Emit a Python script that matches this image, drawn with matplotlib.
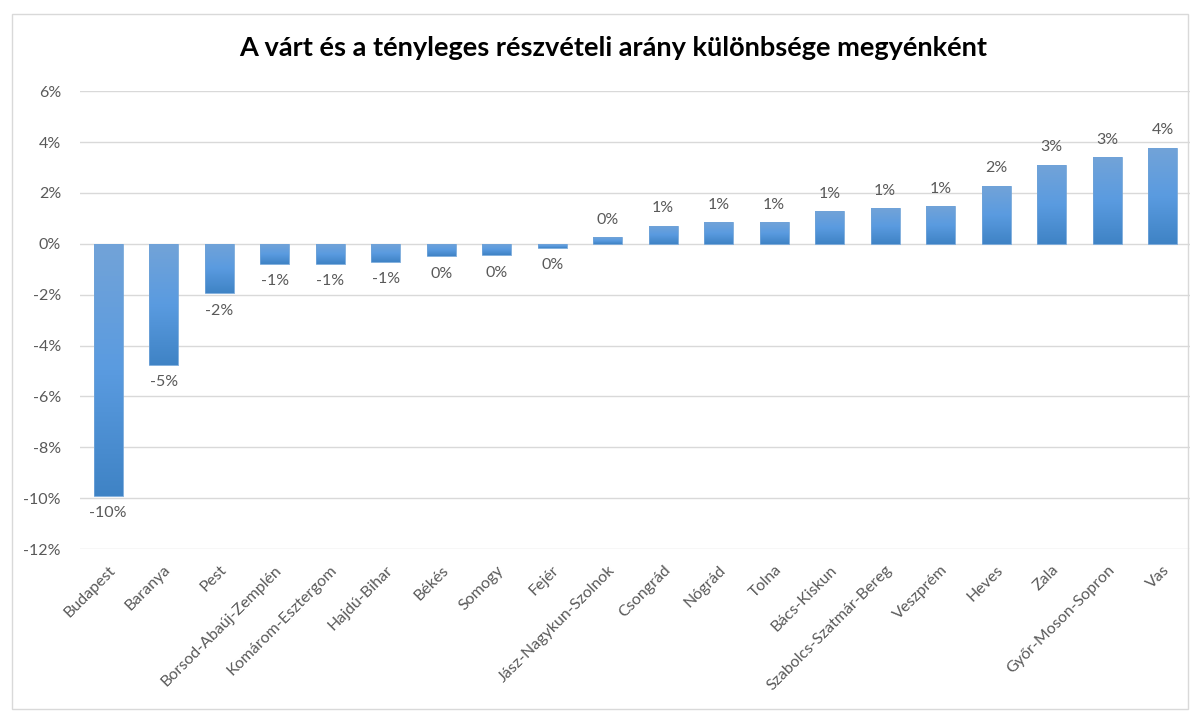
import matplotlib
matplotlib.use('Agg')
import matplotlib.pyplot as plt
from matplotlib.patches import Rectangle
from matplotlib.ticker import FuncFormatter, MultipleLocator
import numpy as np

megyek = ["Budapest", "Baranya", "Pest", "Borsod-Abaúj-Zemplén", "Komárom-Esztergom",
          "Hajdú-Bihar", "Békés", "Somogy", "Fejér", "Jász-Nagykun-Szolnok",
          "Csongrád", "Nógrád", "Tolna", "Bács-Kiskun", "Szabolcs-Szatmár-Bereg",
          "Veszprém", "Heves", "Zala", "Győr-Moson-Sopron", "Vas"]
kulonbseg = [-9.9, -4.75, -1.95, -0.78, -0.78, -0.7, -0.49, -0.45, -0.15, 0.25,
             0.72, 0.85, 0.85, 1.28, 1.4, 1.47, 2.28, 3.1, 3.4, 3.77]

text_color = "#595959"
grid_color = "#d9d9d9"
plt.rcParams['font.family'] = ['Lato', 'DejaVu Sans']

fig = plt.figure(figsize=(12, 7.13), dpi=100)
ax = fig.add_axes([0.067, 0.23, 0.925, 0.642])

x = np.arange(len(megyek))
bars = ax.bar(x, kulonbseg, width=0.52, color="none", zorder=2)

# gradient fill: lighter at top, darker at bottom
grad = np.linspace(0, 1, 256).reshape(-1, 1)
cmap = matplotlib.colors.LinearSegmentedColormap.from_list("g", ["#72a3d8", "#5a9be0", "#3f83c5"])
for b in bars:
    x0, y0 = b.get_x(), b.get_y()
    w, h = b.get_width(), b.get_height()
    lo, hi = min(y0, y0 + h), max(y0, y0 + h)
    im = ax.imshow(grad, cmap=cmap, aspect="auto", extent=(x0, x0 + w, lo, hi),
                   origin="upper", zorder=2)
    im.set_clip_path(b)
    ax.add_patch(Rectangle((x0, lo), w, hi - lo, fill=False, edgecolor="#6fa3d8",
                           linewidth=0.6, zorder=3))

for xi, v in zip(x, kulonbseg):
    lab = f"{round(v):.0f}%"
    if lab == "-0%":
        lab = "0%"
    if v >= 0:
        ax.text(xi, v + 0.42, lab, ha="center", va="bottom", fontsize=11.5, color=text_color)
    else:
        ax.text(xi, v - 0.42, lab, ha="center", va="top", fontsize=11.5, color=text_color)

ax.set_xlim(-0.5, len(megyek) - 0.5)
ax.set_ylim(-12, 6)
ax.yaxis.set_major_locator(MultipleLocator(2))
ax.yaxis.set_major_formatter(FuncFormatter(lambda v, p: f"{v:.0f}%"))
ax.grid(axis="y", color=grid_color, linewidth=1, zorder=0)
ax.set_axisbelow(True)
for s in ax.spines.values():
    s.set_visible(False)
ax.tick_params(axis="both", length=0, colors=text_color, labelsize=11.5)
ax.tick_params(axis="y", pad=14)
ax.set_xticks(x)
ax.set_xticklabels(megyek, rotation=45, ha="right", rotation_mode="anchor")
ax.tick_params(axis="x", pad=10)

fig.text(0.511, 0.933, "A várt és a tényleges részvételi arány különbsége megyénként",
         ha="center", va="center", fontsize=19.5, fontweight="bold", color="black")

fig.patches.append(Rectangle((0.01, 0.005), 0.98, 0.975, transform=fig.transFigure,
                             fill=False, edgecolor="#d9d9d9", linewidth=1))

fig.savefig("out.png", dpi=100)
